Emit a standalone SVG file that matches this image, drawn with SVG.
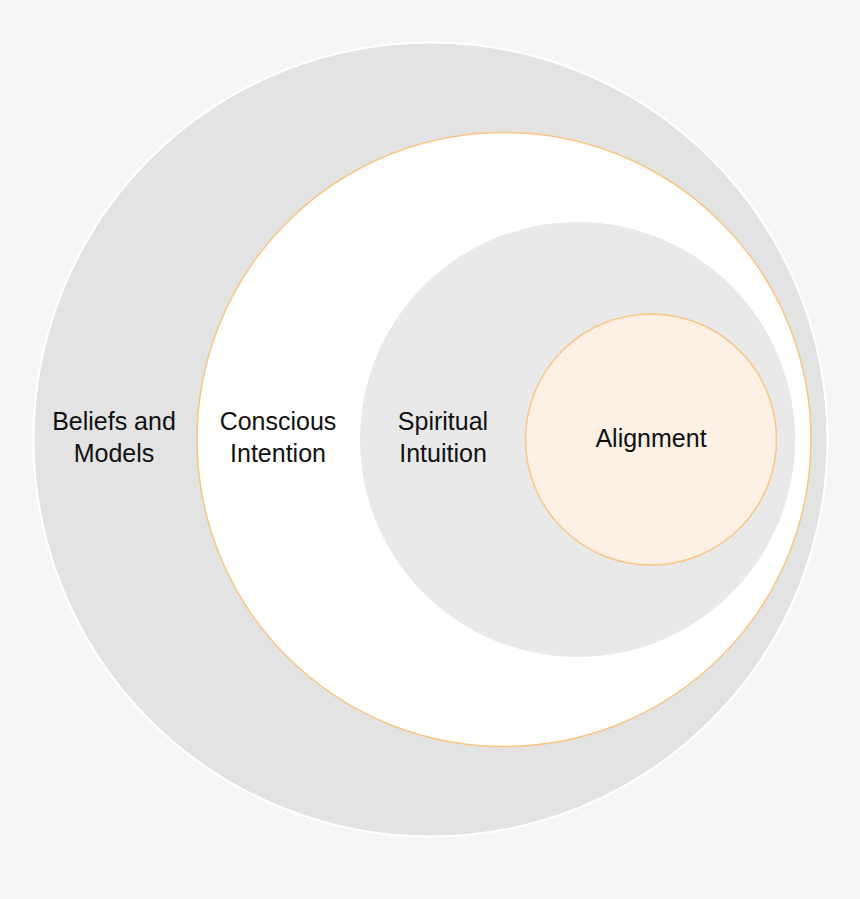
<svg xmlns="http://www.w3.org/2000/svg" width="860" height="899" viewBox="0 0 860 899">
<style>
.lbl{font-family:"Liberation Sans",Arial,sans-serif;font-size:25px;fill:#111;text-anchor:middle}
</style>
<rect width="860" height="899" fill="#f6f6f6"/>
<g id="beliefs">
<circle cx="430.5" cy="439.5" r="397" fill="#e3e3e3" stroke="#ffffff" stroke-width="2"/>
<text class="lbl" x="114" y="430">Beliefs and</text>
<text class="lbl" x="114" y="462">Models</text>
</g>
<g id="conscious">
<circle cx="504" cy="439.5" r="307" fill="#ffffff" stroke="#f9c684" stroke-width="1.5"/>
<text class="lbl" x="278" y="430">Conscious</text>
<text class="lbl" x="278" y="462">Intention</text>
</g>
<g id="spiritual">
<circle cx="577.5" cy="439.5" r="217.5" fill="#e9e9e9"/>
<text class="lbl" x="443" y="430">Spiritual</text>
<text class="lbl" x="443" y="462">Intuition</text>
</g>
<g id="alignment">
<circle cx="651" cy="439.5" r="125.5" fill="#fdf1e6" stroke="#f9c684" stroke-width="1.5"/>
<text class="lbl" x="651" y="447">Alignment</text>
</g>
<g id="connectors"/>
</svg>
